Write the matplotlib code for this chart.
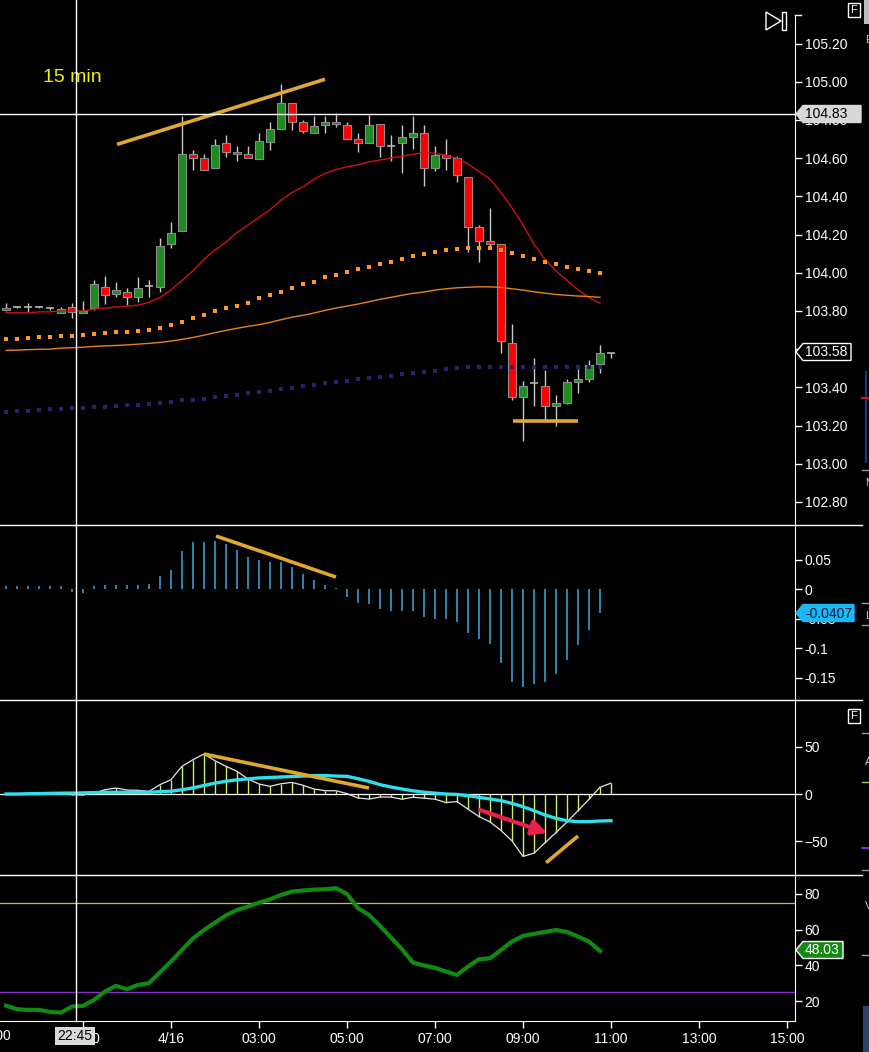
import numpy as np
import matplotlib
matplotlib.use("Agg")
import matplotlib.pyplot as plt
from matplotlib.lines import Line2D
from matplotlib.patches import Polygon, Rectangle

plt.rcParams['font.family'] = ['Liberation Sans', 'DejaVu Sans']

# ---- 15 min bars, 21:15 -> 11:00 ----
opens = [103.813, 103.819, 103.819, 103.819, 103.813, 103.787, 103.819, 103.787, 103.813, 103.927,
         103.887, 103.897, 103.871, 103.930, 103.927, 104.149, 104.220, 104.620, 104.600, 104.550,
         104.680, 104.634, 104.620, 104.597, 104.686, 104.750, 104.887, 104.787, 104.730, 104.773,
         104.790, 104.773, 104.700, 104.680, 104.777, 104.665, 104.680, 104.710, 104.730, 104.550,
         104.616, 104.600, 104.500, 104.238, 104.168, 104.149, 103.630, 103.350, 103.420, 103.408,
         103.300, 103.320, 103.430, 103.442, 103.520, 103.578]
closes = [103.805, 103.819, 103.819, 103.819, 103.813, 103.808, 103.796, 103.800, 103.940, 103.883,
          103.910, 103.871, 103.918, 103.930, 104.140, 104.210, 104.620, 104.600, 104.540, 104.667,
          104.630, 104.620, 104.600, 104.690, 104.750, 104.887, 104.787, 104.740, 104.770, 104.790,
          104.777, 104.700, 104.680, 104.773, 104.665, 104.665, 104.710, 104.730, 104.550, 104.616,
          104.600, 104.510, 104.238, 104.168, 104.150, 103.642, 103.350, 103.408, 103.420, 103.300,
          103.320, 103.430, 103.442, 103.517, 103.578, 103.578]
highs = [103.840, 103.825, 103.840, 103.822, 103.822, 103.822, 103.840, 103.854, 103.962, 103.983,
         103.950, 103.918, 103.980, 103.962, 104.180, 104.267, 104.820, 104.640, 104.620, 104.700,
         104.720, 104.663, 104.663, 104.730, 104.790, 104.990, 104.887, 104.800, 104.820, 104.820,
         104.838, 104.790, 104.730, 104.826, 104.777, 104.720, 104.773, 104.820, 104.773, 104.663,
         104.700, 104.610, 104.500, 104.250, 104.337, 104.149, 103.730, 103.433, 103.552, 103.490,
         103.360, 103.442, 103.494, 103.543, 103.620, 103.580]
lows = [103.800, 103.815, 103.796, 103.815, 103.805, 103.787, 103.761, 103.787, 103.805, 103.836,
        103.871, 103.831, 103.848, 103.871, 103.897, 104.128, 104.220, 104.538, 104.540, 104.550,
        104.607, 104.586, 104.600, 104.597, 104.640, 104.750, 104.747, 104.730, 104.730, 104.730,
        104.761, 104.700, 104.630, 104.680, 104.607, 104.586, 104.520, 104.650, 104.454, 104.530,
        104.540, 104.477, 104.110, 104.058, 104.136, 103.578, 103.334, 103.120, 103.300, 103.230,
        103.200, 103.313, 103.369, 103.430, 103.477, 103.552]

ma_red = [103.79, 103.79, 103.79, 103.795, 103.795, 103.80, 103.80, 103.80, 103.81, 103.815,
          103.82, 103.825, 103.83, 103.845, 103.87, 103.91, 103.96, 104.01, 104.07, 104.12,
          104.16, 104.21, 104.25, 104.29, 104.33, 104.38, 104.42, 104.45, 104.49, 104.52,
          104.54, 104.555, 104.565, 104.58, 104.59, 104.60, 104.61, 104.62, 104.63, 104.625,
          104.615, 104.60, 104.57, 104.53, 104.49, 104.42, 104.34, 104.25, 104.15, 104.07,
          104.01, 103.96, 103.91, 103.87, 103.84]
ma_orange_dots = [103.653, 103.653, 103.657, 103.662, 103.665, 103.669, 103.671, 103.676, 103.679, 103.684,
                  103.690, 103.692, 103.697, 103.700, 103.710, 103.725, 103.744, 103.762, 103.779, 103.798,
                  103.814, 103.828, 103.844, 103.866, 103.882, 103.901, 103.922, 103.940, 103.954, 103.975,
                  103.990, 104.005, 104.018, 104.032, 104.047, 104.058, 104.073, 104.089, 104.100, 104.110,
                  104.121, 104.126, 104.129, 104.131, 104.131, 104.121, 104.105, 104.089, 104.073, 104.058,
                  104.044, 104.032, 104.021, 104.011, 104.000]
ma_orange_line = [103.593, 103.595, 103.597, 103.599, 103.600, 103.605, 103.607, 103.610, 103.614, 103.617,
                  103.619, 103.622, 103.626, 103.630, 103.635, 103.642, 103.651, 103.661, 103.673, 103.686,
                  103.698, 103.709, 103.719, 103.728, 103.740, 103.754, 103.767, 103.777, 103.789, 103.803,
                  103.815, 103.825, 103.836, 103.848, 103.861, 103.871, 103.882, 103.892, 103.899, 103.909,
                  103.916, 103.921, 103.924, 103.926, 103.926, 103.923, 103.916, 103.909, 103.900, 103.893,
                  103.886, 103.882, 103.878, 103.875, 103.871]
ma_navy_dots = [103.271, 103.278, 103.278, 103.281, 103.286, 103.287, 103.292, 103.294, 103.297, 103.299,
                103.304, 103.309, 103.309, 103.314, 103.319, 103.325, 103.332, 103.335, 103.340, 103.351,
                103.355, 103.361, 103.372, 103.376, 103.382, 103.393, 103.398, 103.408, 103.413, 103.424,
                103.429, 103.435, 103.442, 103.447, 103.455, 103.461, 103.470, 103.477, 103.482, 103.487,
                103.494, 103.499, 103.505, 103.508, 103.508, 103.508, 103.508, 103.508, 103.508, 103.508,
                103.508, 103.508, 103.508, 103.508, 103.508]

hist = [0.005, 0.005, 0.005, 0.005, 0.005, 0.005, -0.005, -0.006, 0.005, 0.006,
        0.007, 0.006, 0.007, 0.008, 0.022, 0.032, 0.064, 0.079, 0.079, 0.082,
        0.076, 0.066, 0.055, 0.049, 0.045, 0.046, 0.038, 0.025, 0.015, 0.007,
        0.001, -0.014, -0.024, -0.025, -0.034, -0.038, -0.038, -0.037, -0.048, -0.050,
        -0.051, -0.055, -0.074, -0.085, -0.093, -0.125, -0.158, -0.166, -0.161, -0.157,
        -0.144, -0.120, -0.095, -0.069, -0.041]

osc = [0, 0, 0, 0, 0.7, 0, -0.7, -1.0, 1.0, 4.6,
       6.3, 4.2, 3.9, 2.8, 9.9, 15.2, 29.3, 36.3, 42.3, 35.2,
       29.3, 24.0, 15.9, 10.6, 8.1, 10.9, 12.3, 9.2, 5.3, 3.5,
       3.5, 0.4, -4.2, -5.3, -3.2, -3.2, -5.5, -3.4, -4.4, -5.5,
       -9.0, -8.0, -16.0, -23.8, -29.5, -38.5, -49.5, -66.0, -62.5, -51.5,
       -40.7, -29.5, -17.6, -5.5, 7.2, 11.5]
osc_signal = [0, 0, 0.3, 0.5, 0.7, 0.9, 1.0, 1.2, 1.5, 1.8,
              1.8, 1.8, 1.8, 1.8, 2.5, 3.0, 4.5, 6.5, 9.0, 11.5,
              13.5, 15.0, 16.0, 17.0, 17.5, 18.0, 18.5, 19.0, 19.5, 19.5,
              19.0, 18.7, 16.2, 13.4, 9.9, 7.4, 5.3, 3.4, 1.9, 0.9,
              0, -0.4, -1.8, -3.5, -5.3, -7.0, -9.9, -13.4, -17.6, -22.2,
              -25.7, -28.2, -29.2, -29.2, -28.5, -28.2]

rsi = [17.4, 15.4, 15.0, 15.0, 13.9, 13.5, 16.9, 17.3, 20.6, 25.3,
       28.5, 26.6, 29.0, 30.0, 36.1, 42.1, 48.6, 55.0, 59.8, 63.9,
       68.0, 71.0, 72.9, 75.1, 77.0, 79.4, 81.3, 81.9, 82.4, 82.6,
       83.2, 80.0, 72.0, 68.2, 62.1, 55.5, 49.0, 41.5, 39.9, 38.6,
       36.5, 34.6, 39.3, 43.4, 43.9, 48.6, 53.3, 56.5, 57.6, 58.7,
       59.8, 58.7, 56.1, 53.3, 48.03]

# hand drawn annotations (bar index, value)
price_trend = ([10.1, 29.0], [104.672, 105.013])
price_support = ([46.06, 52.03], [103.225, 103.225])
hist_trend = ([19.1, 30.0], [0.0898, 0.0203])
osc_trend = ([18.0, 33.0], [42.3, 6.3])
osc_trend_low = ([49.1, 52.0], [-72.6, -44.4])
arrow_from, arrow_to = (43.1, -16.9), (49.2, -41.2)
crosshair_bar, crosshair_price = 6.36, 104.83

time_ticks = [7, 15, 23, 31, 39, 47, 55, 63, 71]
time_labels = ["23:00", "4/16", "03:00", "05:00", "07:00", "09:00", "11:00", "13:00", "15:00"]
price_ticks = [102.8, 103.0, 103.2, 103.4, 103.6, 103.8, 104.0, 104.2, 104.4, 104.6, 104.8, 105.0, 105.2]

W, H = 870, 1052
AX_R = 795
FS = 10
fig = plt.figure(figsize=(W / 100, H / 100), dpi=100, facecolor="black")


def fx(x):
    return x / W


def fy(y):
    return 1 - y / H


def panel(top, bottom):
    ax = fig.add_axes([0, fy(bottom), AX_R / W, (bottom - top) / H], facecolor="black")
    ax.set_xlim(-6 / 11, (AX_R - 6) / 11)
    for s in ("top", "left", "bottom"):
        ax.spines[s].set_visible(False)
    ax.spines["right"].set_color("white")
    ax.yaxis.tick_right()
    ax.tick_params(axis="y", colors="white", length=5, width=1, labelsize=FS, pad=2)
    ax.tick_params(axis="x", bottom=False, labelbottom=False)
    return ax


def fline(x0, y0, x1, y1, **kw):
    fig.add_artist(Line2D([fx(x0), fx(x1)], [fy(y0), fy(y1)], transform=fig.transFigure, **kw))


x = np.arange(len(opens))
o, c = np.array(opens), np.array(closes)

# ---- price panel ----
ax1 = panel(0, 525)
ax1.set_ylim(102.679, 105.428)
ax1.set_yticks(price_ticks)
ax1.set_yticklabels([f"{v:.2f}" for v in price_ticks])
ax1.spines["right"].set_bounds(102.679, 105.349)

ax1.vlines(x, lows, highs, color="#c8c8c8", lw=1, zorder=2)
doji = np.abs(c - o) < 0.004
body = ~doji
cols = np.where(c > o, "#1f8c1f", "#ff0000")
ax1.bar(x[body], (c - o)[body], bottom=o[body], width=0.72, color=cols[body],
        edgecolor="#8c8c8c", lw=0.8, zorder=2.5)
ax1.hlines(o[doji], x[doji] - 0.36, x[doji] + 0.36, color="#b4b4b4", lw=1.2, zorder=2.5)

xm = np.arange(len(ma_red))
ax1.plot(xm, ma_red, color="#cc1111", lw=1, zorder=3)
ax1.plot(xm, ma_orange_line, color="#e8821e", lw=1, zorder=3)
ax1.scatter(xm, ma_orange_dots, marker="s", s=9, color="#ff9a1e", lw=0, zorder=3.5)
ax1.scatter(xm, ma_navy_dots, marker="s", s=9, color="#23236e", lw=0, zorder=3.5)
ax1.plot(*price_trend, color="#e0a82e", lw=2.6, solid_capstyle="butt", zorder=4)
ax1.plot(*price_support, color="#e0a82e", lw=2.6, solid_capstyle="butt", zorder=4)
ax1.axhline(crosshair_price, color="white", lw=1, zorder=5)
fig.text(fx(43), fy(78), "15 min", color="#f2f200", fontsize=14, va="center", ha="left")

# ---- histogram panel ----
ax2 = panel(525, 700)
ax2.set_ylim(-0.188, 0.1085)
ax2.set_yticks([0.05, 0, -0.05, -0.1, -0.15])
ax2.set_yticklabels(["0.05", "0", "-0.05", "-0.1", "-0.15"])
ax2.vlines(np.arange(len(hist)), 0, hist, color="#3aaade", lw=1.1)
ax2.plot(*hist_trend, color="#e0a82e", lw=2.6, solid_capstyle="butt")

# ---- oscillator panel ----
ax3 = panel(700, 875)
ax3.set_ylim(-85.6, 99.4)
ax3.set_yticks([50, 0, -50])
ax3.axhline(0, color="white", lw=0.9, zorder=1)
xo = np.arange(len(osc))
ax3.vlines(xo, 0, osc, color="#c6f25a", lw=1, zorder=2)
ax3.plot(xo, osc, color="#e6e6e6", lw=0.9, zorder=3)
ax3.plot(xo, osc_signal, color="#2ee0ea", lw=2.4, zorder=4)
ax3.plot(*osc_trend, color="#e0a82e", lw=2.6, solid_capstyle="butt", zorder=5)
ax3.plot(*osc_trend_low, color="#e0a82e", lw=2.6, solid_capstyle="butt", zorder=5)
ax3.annotate("", xy=arrow_to, xytext=arrow_from, zorder=6,
             arrowprops=dict(arrowstyle="-|>", color="#e8204a", lw=3, mutation_scale=22,
                             shrinkA=0, shrinkB=0))

# ---- rsi panel ----
ax4 = panel(875, 1021)
ax4.set_ylim(8.8, 90.6)
ax4.set_yticks([80, 60, 40, 20])
ax4.axhline(75, color="#a8c86e", lw=0.9)
ax4.axhline(25, color="#8a2cc8", lw=1)
ax4.plot(np.arange(len(rsi)), rsi, color="#128a12", lw=3)
ax4.spines["bottom"].set_visible(True)
ax4.spines["bottom"].set_color("white")
ax4.set_xticks(time_ticks)
ax4.set_xticklabels(time_labels)
ax4.tick_params(axis="x", bottom=True, labelbottom=True, colors="white", length=5,
                width=1, labelsize=FS, pad=3)
fig.text(fx(-6), fy(1036), "21:00", color="white", fontsize=FS, ha="center", va="center")
fig.text(fx(75), fy(1036), "22:45", color="black", fontsize=FS, ha="center", va="center",
         bbox=dict(boxstyle="square,pad=0.15", fc="#d8d8d8", ec="none"))

# ---- separators, crosshair ----
for yy in (525, 700, 875):
    fline(0, yy, 862, yy, color="white", lw=1)
fline(AX_R, 15, 801, 15, color="white", lw=1)
xc = 6 + 11 * crosshair_bar
fline(xc, 0, xc, 1021, color="white", lw=1, zorder=10)


# ---- value tags on the right axis ----
def tag(y, text, face, edge, tcolor, width):
    pts = [(796, y), (803, y - 8.5), (803 + width, y - 8.5), (803 + width, y + 8.5), (803, y + 8.5)]
    fig.add_artist(Polygon([(fx(a), fy(b)) for a, b in pts], closed=True, transform=fig.transFigure,
                           fc=face, ec=edge, lw=1, zorder=20))
    fig.text(fx(805), fy(y + 0.5), text, color=tcolor, fontsize=FS, ha="left", va="center", zorder=21)


tag(114, "104.83", "#d8d8d8", "#d8d8d8", "black", 58)
tag(352, "103.58", "black", "white", "white", 48)
tag(613, "-0.0407", "#1ab8f4", "#1ab8f4", "#0a1a3a", 51)
tag(950, "48.03", "#138a13", "white", "white", 40)

# ---- small widgets ----
fig.add_artist(Polygon([(fx(766), fy(12)), (fx(766), fy(30)), (fx(781), fy(21))], closed=True,
                       transform=fig.transFigure, fill=False, ec="white", lw=1))
fig.add_artist(Rectangle((fx(782), fy(30)), 4 / W, 18 / H, transform=fig.transFigure,
                         fill=False, ec="white", lw=1))
for top in (3, 709):
    fig.add_artist(Rectangle((fx(848), fy(top + 14)), 12 / W, 14 / H, transform=fig.transFigure,
                             fill=False, ec="white", lw=1))
    fig.text(fx(854), fy(top + 7), "F", color="white", fontsize=8, ha="center", va="center")
fig.add_artist(Rectangle((fx(864), fy(24)), 6 / W, 24 / H, transform=fig.transFigure, fc="#bdbdbd", ec="none"))
for yy, ch, col in ((40, "E", "#b8c890"), (483, "M", "#c8c8c8"), (616, "L", "#c8c8c8"),
                    (762, "A", "#c8c8c8"), (906, "V", "#c8c8c8")):
    fig.text(fx(865), fy(yy), ch, color=col, fontsize=8, ha="left", va="center")
fline(866, 372, 866, 462, color="#243080", lw=1.5)
fline(862, 398, 870, 398, color="#d01818", lw=1.5)
for yy in (470, 603, 625, 733, 870, 955):
    fline(862, yy, 870, yy, color="#9a9a9a", lw=1)
fline(862, 782, 870, 782, color="#a8c86e", lw=1)
fline(862, 848, 870, 848, color="#8a2cc8", lw=1.5)
fig.add_artist(Rectangle((fx(863), fy(1052)), 7 / W, 46 / H, transform=fig.transFigure,
                         fc="#2e4266", ec="none"))

fig.savefig("out.png", dpi=100, facecolor="black")
